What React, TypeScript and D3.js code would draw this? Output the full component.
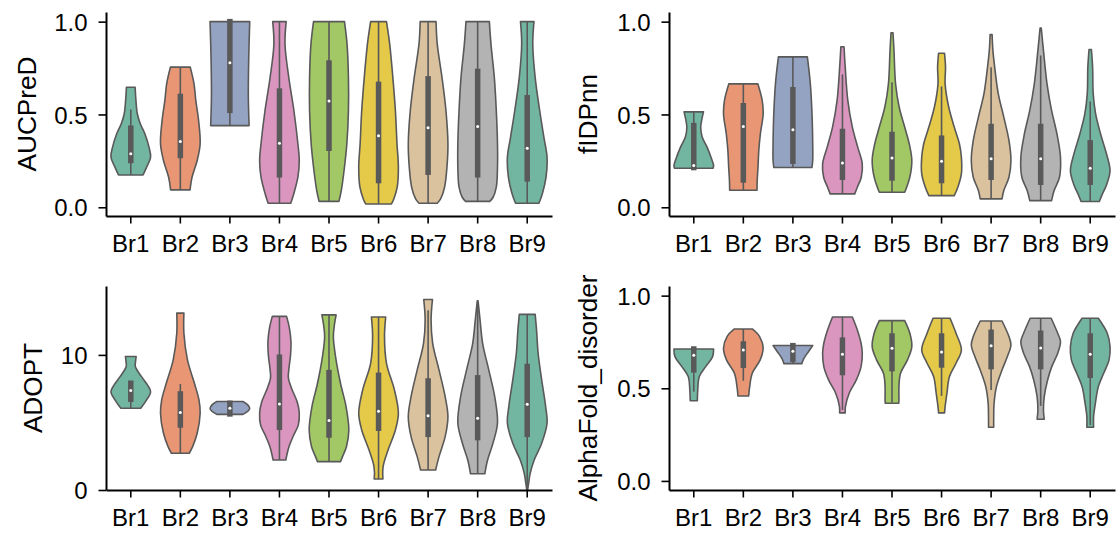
import React, { useEffect, useRef } from "react";
import * as d3 from "d3";

const categories = ["Br1", "Br2", "Br3", "Br4", "Br5", "Br6", "Br7", "Br8", "Br9"];

const unitTicks = [0, 0.5, 1.0];
const unitTickLabels = ["0.0", "0.5", "1.0"];
const adoptTicks = [0, 10];
const adoptTickLabels = ["0", "10"];

// violin outlines: [value, relative half width]
const aucpredShape = [
  [[0.174, 0.62], [0.216, 0.8], [0.27, 1.0], [0.324, 0.92], [0.396, 0.71], [0.45, 0.48], [0.504, 0.33], [0.576, 0.26], [0.647, 0.22]],
  [[0.094, 0.49], [0.162, 0.59], [0.252, 0.85], [0.342, 1.0], [0.468, 0.92], [0.576, 0.78], [0.665, 0.69], [0.755, 0.5]],
  [[0.44, 0.97], [0.6, 0.93], [0.8, 0.95], [1.0, 1.0]],
  [[0.022, 0.57], [0.072, 0.72], [0.162, 0.93], [0.252, 1.0], [0.342, 0.93], [0.52, 0.73], [0.7, 0.47], [0.88, 0.28], [1.0, 0.34]],
  [[0.032, 0.5], [0.09, 0.62], [0.198, 0.76], [0.342, 0.9], [0.52, 0.98], [0.7, 0.98], [0.88, 0.91], [1.0, 0.78]],
  [[0.018, 0.65], [0.045, 0.77], [0.108, 0.94], [0.216, 1.0], [0.342, 0.93], [0.52, 0.85], [0.7, 0.72], [0.88, 0.56], [1.0, 0.4]],
  [[0.022, 0.46], [0.045, 0.63], [0.108, 0.83], [0.216, 0.95], [0.342, 1.0], [0.52, 0.9], [0.7, 0.7], [0.88, 0.46], [1.0, 0.4]],
  [[0.032, 0.61], [0.054, 0.78], [0.108, 0.94], [0.216, 1.0], [0.342, 1.0], [0.52, 0.94], [0.7, 0.84], [0.88, 0.67], [1.0, 0.59]],
  [[0.022, 0.59], [0.072, 0.76], [0.162, 0.95], [0.27, 1.0], [0.378, 0.84], [0.52, 0.63], [0.7, 0.4], [0.88, 0.28], [1.0, 0.34]],
];
// [whisker low, q1, median, q3, whisker high]
const aucpredBox = [
  [0.174, 0.252, 0.288, 0.426, 0.527],
  [0.094, 0.279, 0.354, 0.597, 0.755],
  [0.44, 0.522, 0.779, 1.0, 1.0],
  [0.022, 0.175, 0.345, 0.626, 1.0],
  [0.032, 0.318, 0.572, 0.777, 1.0],
  [0.018, 0.144, 0.385, 0.662, 1.0],
  [0.022, 0.189, 0.428, 0.692, 1.0],
  [0.032, 0.175, 0.435, 0.732, 1.0],
  [0.022, 0.153, 0.318, 0.59, 1.0],
];

const fidpnnShape = [
  [[0.21, 0.97], [0.225, 1.0], [0.26, 0.9], [0.324, 0.67], [0.38, 0.42], [0.432, 0.35], [0.48, 0.42], [0.514, 0.49]],
  [[0.092, 0.69], [0.144, 0.7], [0.216, 0.74], [0.306, 0.78], [0.396, 0.86], [0.504, 1.0], [0.576, 0.95], [0.665, 0.73]],
  [[0.214, 0.96], [0.252, 1.0], [0.342, 1.0], [0.486, 0.97], [0.665, 0.88], [0.81, 0.73]],
  [[0.072, 0.62], [0.108, 0.75], [0.162, 0.95], [0.234, 1.0], [0.324, 0.77], [0.432, 0.5], [0.576, 0.27], [0.755, 0.14], [0.865, 0.08]],
  [[0.081, 0.64], [0.108, 0.74], [0.162, 0.9], [0.252, 1.0], [0.342, 0.87], [0.432, 0.64], [0.54, 0.36], [0.665, 0.18], [0.845, 0.1], [0.94, 0.05]],
  [[0.063, 0.64], [0.108, 0.82], [0.18, 1.0], [0.27, 1.0], [0.342, 0.9], [0.432, 0.64], [0.54, 0.36], [0.665, 0.18], [0.755, 0.2], [0.83, 0.15]],
  [[0.045, 0.55], [0.09, 0.64], [0.162, 0.9], [0.252, 1.0], [0.36, 0.9], [0.486, 0.64], [0.612, 0.36], [0.755, 0.18], [0.845, 0.09], [0.93, 0.05]],
  [[0.036, 0.55], [0.09, 0.68], [0.162, 0.95], [0.27, 1.0], [0.396, 0.82], [0.522, 0.55], [0.665, 0.32], [0.845, 0.14], [0.965, 0.03]],
  [[0.031, 0.46], [0.063, 0.58], [0.126, 0.84], [0.198, 1.0], [0.288, 0.82], [0.396, 0.52], [0.504, 0.27], [0.612, 0.15], [0.755, 0.12], [0.85, 0.06]],
];
const fidpnnBox = [
  [0.214, 0.214, 0.225, 0.44, 0.514],
  [0.092, 0.147, 0.435, 0.547, 0.665],
  [0.214, 0.248, 0.417, 0.633, 0.81],
  [0.072, 0.162, 0.239, 0.408, 0.716],
  [0.081, 0.158, 0.266, 0.392, 0.674],
  [0.063, 0.144, 0.248, 0.372, 0.651],
  [0.045, 0.162, 0.261, 0.435, 0.755],
  [0.036, 0.135, 0.261, 0.435, 0.818],
  [0.031, 0.135, 0.21, 0.347, 0.57],
];

const adoptShape = [
  [[6.05, 0.5], [6.67, 0.8], [7.28, 1.0], [7.78, 0.84], [8.39, 0.54], [9.14, 0.23], [9.5, 0.24], [9.88, 0.27]],
  [[2.72, 0.45], [3.21, 0.62], [4.2, 0.85], [5.68, 1.0], [6.67, 0.94], [7.9, 0.71], [9.63, 0.36], [11.6, 0.18], [13.09, 0.18]],
  [[5.6, 0.66], [5.85, 0.92], [6.05, 1.0], [6.3, 0.9], [6.55, 0.66]],
  [[2.22, 0.32], [3.2, 0.48], [4.0, 0.7], [4.8, 0.95], [5.7, 1.0], [6.5, 0.9], [7.5, 0.62], [8.3, 0.45], [9.0, 0.48], [10.0, 0.56], [11.0, 0.58], [12.0, 0.5], [12.85, 0.36]],
  [[2.1, 0.58], [2.47, 0.68], [3.2, 0.88], [4.44, 1.0], [6.17, 0.86], [7.9, 0.58], [9.88, 0.33], [11.36, 0.22], [12.3, 0.28], [12.96, 0.36]],
  [[0.81, 0.22], [1.73, 0.23], [2.96, 0.48], [4.44, 0.85], [5.68, 1.0], [7.41, 0.8], [9.38, 0.4], [11.36, 0.3], [12.8, 0.36]],
  [[1.48, 0.38], [2.47, 0.55], [3.95, 0.86], [5.43, 1.0], [6.91, 0.86], [8.89, 0.55], [10.86, 0.23], [12.6, 0.15], [14.1, 0.22]],
  [[1.2, 0.36], [2.22, 0.5], [3.46, 0.77], [4.94, 1.0], [6.91, 0.86], [8.89, 0.56], [10.86, 0.25], [12.6, 0.12], [14.0, 0.02]],
  [[0.0, 0.02], [0.49, 0.07], [1.23, 0.15], [2.22, 0.35], [3.46, 0.73], [4.94, 1.0], [6.17, 0.93], [8.15, 0.73], [10.12, 0.55], [11.85, 0.47], [13.0, 0.4]],
];
const adoptBox = [
  [6.05, 6.72, 7.36, 7.9, 7.9],
  [2.72, 4.81, 5.73, 7.11, 7.85],
  [5.63, 5.63, 6.05, 6.42, 6.42],
  [2.22, 4.64, 6.37, 9.83, 12.85],
  [2.1, 4.07, 5.14, 8.69, 12.96],
  [0.81, 4.57, 5.83, 8.49, 12.8],
  [1.48, 4.12, 5.5, 8.07, 13.3],
  [1.2, 3.88, 5.31, 8.3, 13.8],
  [0.0, 4.12, 6.35, 9.14, 13.0],
];

const alphaShape = [
  [[0.433, 0.18], [0.491, 0.2], [0.563, 0.28], [0.617, 0.6], [0.671, 0.95], [0.712, 1.0]],
  [[0.458, 0.27], [0.509, 0.32], [0.581, 0.45], [0.653, 0.85], [0.716, 1.0], [0.779, 0.82], [0.82, 0.45]],
  [[0.633, 0.45], [0.66, 0.55], [0.7, 0.8], [0.731, 1.0]],
  [[0.367, 0.14], [0.401, 0.15], [0.473, 0.34], [0.545, 0.7], [0.617, 0.94], [0.689, 1.0], [0.743, 0.94], [0.815, 0.75], [0.885, 0.5]],
  [[0.419, 0.34], [0.437, 0.35], [0.509, 0.35], [0.581, 0.43], [0.653, 0.78], [0.725, 1.0], [0.797, 0.9], [0.865, 0.64]],
  [[0.367, 0.15], [0.401, 0.18], [0.473, 0.27], [0.563, 0.4], [0.635, 0.73], [0.707, 1.0], [0.797, 0.73], [0.878, 0.43]],
  [[0.29, 0.13], [0.329, 0.13], [0.419, 0.15], [0.509, 0.27], [0.599, 0.55], [0.671, 0.82], [0.734, 1.0], [0.779, 0.9], [0.863, 0.55]],
  [[0.333, 0.18], [0.383, 0.14], [0.455, 0.18], [0.545, 0.35], [0.617, 0.56], [0.689, 0.86], [0.752, 1.0], [0.797, 0.86], [0.878, 0.53]],
  [[0.29, 0.17], [0.347, 0.17], [0.419, 0.26], [0.509, 0.41], [0.581, 0.68], [0.653, 0.95], [0.725, 1.0], [0.797, 0.86], [0.878, 0.41]],
];
const alphaBox = [
  [0.482, 0.599, 0.678, 0.712, 0.712],
  [0.541, 0.624, 0.707, 0.739, 0.82],
  [0.633, 0.656, 0.7, 0.73, 0.731],
  [0.383, 0.585, 0.683, 0.76, 0.885],
  [0.423, 0.606, 0.716, 0.782, 0.865],
  [0.459, 0.626, 0.696, 0.782, 0.878],
  [0.491, 0.617, 0.73, 0.802, 0.863],
  [0.405, 0.617, 0.718, 0.797, 0.878],
  [0.302, 0.57, 0.683, 0.782, 0.878],
];

const gray = "#595959";
const font = '"Liberation Sans", Arial, Helvetica, sans-serif';
const tickFontSize = 24;
const labelFontSize = 26.2;
const PW = 446;
const PH = 204;

// seaborn desaturates the palette by 0.75
const colors = categories.map((_, i) => {
  const c = d3.hsl(d3.schemeSet2[i % 8]);
  c.s *= 0.75;
  return c.formatHex();
});

type PanelProps = {
  left: number;
  top: number;
  label: string;
  labelX: number;
  shape: number[][][];
  box: number[][];
  domain: [number, number];
  ticks: number[];
  tickLabels: string[];
};

const Panel = ({ left, top, label, labelX, shape, box, domain, ticks, tickLabels }: PanelProps) => {
  const xRef = useRef<SVGGElement>(null);
  const yRef = useRef<SVGGElement>(null);

  const x = d3.scaleBand().domain(categories).range([0, PW]);
  const y = d3.scaleLinear().domain(domain).range([PH, 0]);
  const half = x.bandwidth() * 0.4;

  useEffect(() => {
    const gx = d3.select(xRef.current);
    gx.call(d3.axisBottom(x).tickSize(7.5).tickSizeOuter(0).tickPadding(11.5));
    const gy = d3.select(yRef.current);
    gy.call(
      d3
        .axisLeft(y)
        .tickValues(ticks)
        .tickFormat((_, i) => tickLabels[i])
        .tickSize(7.5)
        .tickSizeOuter(0)
        .tickPadding(11)
    );
    [gx, gy].forEach((g) => {
      g.select(".domain").attr("stroke", "#000").attr("stroke-width", 2);
      g.selectAll(".tick line").attr("stroke", "#000").attr("stroke-width", 1.6);
      g.selectAll("text")
        .attr("font-size", tickFontSize)
        .attr("font-family", font)
        .attr("fill", "#000");
    });
    gy.selectAll("text").attr("dy", "0.36em");
  }, [x, y, ticks, tickLabels]);

  return (
    <g transform={`translate(${left},${top})`}>
      {categories.map((c, i) => {
        const cx = (x(c) as number) + x.bandwidth() / 2;
        const area = d3
          .area<number[]>()
          .y((d) => y(d[0]))
          .x0((d) => cx - d[1] * half)
          .x1((d) => cx + d[1] * half)
          .curve(d3.curveCatmullRom.alpha(0.5));
        const [lo, q1, med, q3, hi] = box[i];
        return (
          <g key={c}>
            <path
              d={area(shape[i]) || ""}
              fill={colors[i]}
              stroke={gray}
              strokeWidth={1.6}
              strokeLinejoin="round"
            />
            <line x1={cx} x2={cx} y1={y(lo)} y2={y(hi)} stroke={gray} strokeWidth={1.6} />
            <line
              x1={cx}
              x2={cx}
              y1={y(q1)}
              y2={y(q3)}
              stroke={gray}
              strokeWidth={5.5}
              strokeLinecap="square"
            />
            <circle cx={cx} cy={y(med)} r={1.5} fill="white" />
          </g>
        );
      })}
      <g ref={xRef} transform={`translate(0,${PH})`} />
      <g ref={yRef} />
      <text
        transform={`translate(${labelX - left},${PH / 2}) rotate(-90)`}
        textAnchor="middle"
        fontSize={labelFontSize}
        fontFamily={font}
        fill="#000"
      >
        {label}
      </text>
    </g>
  );
};

export default function App() {
  return (
    <svg
      width={1117}
      height={537}
      style={{ position: "absolute", left: 0, top: 0, background: "#fff" }}
    >
      <Panel
        left={106}
        top={12}
        label="AUCPreD"
        labelX={36}
        shape={aucpredShape}
        box={aucpredBox}
        domain={[-0.047, 1.052]}
        ticks={unitTicks}
        tickLabels={unitTickLabels}
      />
      <Panel
        left={669}
        top={12}
        label="fIDPnn"
        labelX={597}
        shape={fidpnnShape}
        box={fidpnnBox}
        domain={[-0.047, 1.052]}
        ticks={unitTicks}
        tickLabels={unitTickLabels}
      />
      <Panel
        left={106}
        top={286}
        label="ADOPT"
        labelX={42}
        shape={adoptShape}
        box={adoptBox}
        domain={[0, 15.1]}
        ticks={adoptTicks}
        tickLabels={adoptTickLabels}
      />
      <Panel
        left={669}
        top={286}
        label="AlphaFold_disorder"
        labelX={597}
        shape={alphaShape}
        box={alphaBox}
        domain={[-0.049, 1.052]}
        ticks={unitTicks}
        tickLabels={unitTickLabels}
      />
    </svg>
  );
}
